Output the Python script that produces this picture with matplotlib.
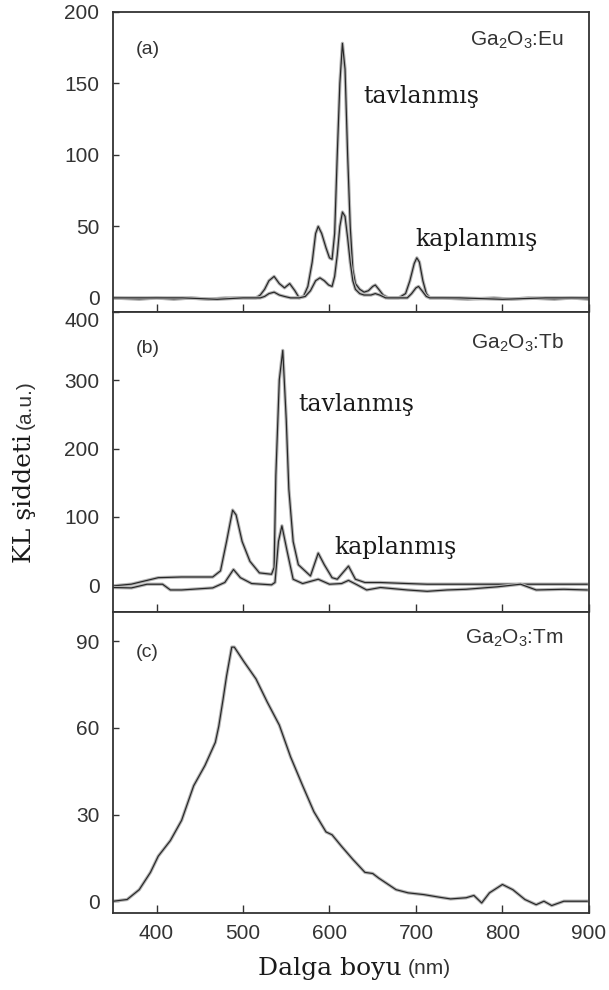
import numpy as np
import matplotlib
matplotlib.use("Agg")
import matplotlib.pyplot as plt

plt.rcParams['font.family'] = ['Liberation Sans', 'DejaVu Sans']
plt.rcParams['mathtext.fontset'] = 'custom'
plt.rcParams['mathtext.rm'] = 'Liberation Sans'
plt.rcParams['mathtext.it'] = 'Liberation Sans'

# (a) Ga2O3:Eu
eu_tav_x = [350, 380, 400, 420, 440, 460, 480, 500, 515, 520, 525, 530, 536, 542, 548, 554, 560, 565,
            570, 575, 580, 584, 587, 591, 596, 600, 603, 606, 609, 612, 615, 618, 621, 624, 627, 630,
            635, 640, 645, 650, 653, 657, 662, 668, 680, 688, 693, 698, 701, 704, 708, 712, 716, 730,
            760, 790, 810, 830, 860, 880, 900]
eu_tav_y = [0, -1, 0, -1, 0, -1, 0, 0, 0, 2, 6, 12, 15, 10, 7, 10, 5, 0,
            1, 8, 25, 45, 50, 45, 35, 28, 27, 45, 100, 150, 178, 160, 100, 50, 20, 10,
            6, 4, 5, 8, 9, 6, 2, 0, 0, 3, 12, 24, 28, 25, 12, 3, 0, 0,
            -1, 0, -1, 0, -1, 0, -1]
eu_kap_x = [350, 390, 430, 470, 500, 520, 525, 530, 536, 542, 548, 555, 565, 572, 578, 584, 589, 594,
            599, 603, 606, 609, 612, 615, 618, 621, 624, 627, 630, 635, 640, 648, 653, 658, 665, 690,
            695, 700, 703, 707, 712, 716, 750, 800, 850, 900]
eu_kap_y = [0, 0, 0, -1, 0, 0, 1, 3, 4, 2, 1, 0, 0, 1, 5, 12, 14, 12,
            9, 8, 15, 30, 50, 60, 57, 42, 25, 12, 6, 3, 2, 2, 3, 2, 0, 0,
            3, 7, 8, 5, 1, 0, 0, -1, 0, 0]

# (b) Ga2O3:Tb
tb_tav_x = [350, 371, 389, 402, 429, 465, 474, 481, 488, 492, 499, 508, 519, 533, 536, 538, 542, 546,
            550, 553, 558, 564, 578, 587, 594, 603, 609, 622, 630, 641, 659, 690, 713, 758, 803, 898]
tb_tav_y = [-1, 1.5, 7, 11, 12, 12, 21, 64, 110, 103, 64, 35, 18, 16, 26, 161, 301, 344,
            243, 141, 64, 30, 13.5, 47, 30, 11, 8.7, 28, 8.7, 3.9, 3.9, 2.4, 1.4, 1.4, 1.4, 1.4]
tb_kap_x = [350, 371, 389, 407, 416, 429, 465, 479, 489, 497, 510, 533, 537, 541, 545, 551, 558, 569,
            587, 600, 614, 622, 632, 643, 659, 690, 713, 736, 758, 794, 821, 839, 871, 898]
tb_kap_y = [-3.4, -4, 1.4, 1.4, -7, -7, -4, 4, 23, 11, 2.4, 0.5, 4, 64, 87, 50, 8.7, 2.4,
            8.7, 1.4, 2.4, 7, 0.5, -7, -3.4, -7, -9, -7, -6, -2.4, 1.4, -7, -6, -7]

# (c) Ga2O3:Tm
tm_x = [350, 366, 380, 393, 402, 416, 429, 443, 456, 468, 472, 477, 481, 487, 490, 501, 515, 528,
        542, 555, 569, 582, 596, 603, 614, 627, 641, 650, 657, 664, 677, 691, 709, 727, 740, 758,
        767, 776, 785, 800, 812, 826, 839, 848, 857, 871, 898]
tm_y = [0, 0.6, 4, 10, 15.6, 21, 28, 40, 47, 55, 60.6, 70, 78, 88, 88, 83, 77, 69,
        61, 50, 40, 31, 24, 23, 19, 14.5, 10, 9.6, 8, 6.6, 4, 2.9, 2.3, 1.4, 0.8, 1.2,
        2, -0.6, 2.9, 5.8, 4, 0.6, -1.2, 0, -1.5, 0, 0]

panels = [
    dict(tag='(a)', dop='Eu', ylim=(-10, 200), yticks=[0, 50, 100, 150, 200],
         curves=[(eu_tav_x, eu_tav_y), (eu_kap_x, eu_kap_y)],
         tav=(639, 141), kap=(699, 41), tagy=174, dopy=180),
    dict(tag='(b)', dop='Tb', ylim=(-40, 400), yticks=[0, 100, 200, 300, 400],
         curves=[(tb_tav_x, tb_tav_y), (tb_kap_x, tb_kap_y)],
         tav=(564, 265), kap=(606, 55), tagy=347, dopy=355),
    dict(tag='(c)', dop='Tm', ylim=(-4, 100), yticks=[0, 30, 60, 90],
         curves=[(tm_x, tm_y)], tav=None, kap=None, tagy=86, dopy=91),
]

fig, axes = plt.subplots(3, 1, sharex=True, figsize=(6.09, 9.90), dpi=100)
fig.subplots_adjust(left=0.186, right=0.967, top=0.988, bottom=0.078, hspace=0)

serif = 'DejaVu Serif'
for ax, p in zip(axes, panels):
    for x, y in p['curves']:
        ax.plot(x, y, color='#b4b4b4', lw=2.4, solid_joinstyle='round')
        ax.plot(x, y, color='#262626', lw=0.85)
    ax.set_xlim(350, 900)
    ax.set_ylim(*p['ylim'])
    ax.set_yticks(p['yticks'])
    ax.set_xticks([400, 500, 600, 700, 800, 900])
    ax.tick_params(axis='both', direction='in', length=6, width=1, colors='#333333',
                   labelsize=15, top=False, right=False)
    ax.tick_params(axis='y', length=4, pad=10)
    for s in ax.spines.values():
        s.set_color('#333333')
        s.set_linewidth(1.3)
    ax.text(376, p['tagy'], p['tag'], fontsize=14, color='#333333', va='center')
    ax.text(871, p['dopy'], 'Ga$_2$O$_3$:' + p['dop'], fontsize=15, color='#333333',
            ha='right', va='center')
    if p['tav']:
        ax.text(p['tav'][0], p['tav'][1], 'tavlanmış', family=serif, fontsize=17,
                color='#1a1a1a', va='center')
        ax.text(p['kap'][0], p['kap'][1], 'kaplanmış', family=serif, fontsize=17,
                color='#1a1a1a', va='center')

axes[2].tick_params(axis='x', pad=8)
# top label of (b) sits just below the frame, clear of the "0" of (a)
axes[1].yaxis.get_major_ticks()[-1].label1.set_verticalalignment('top')

# axis titles: serif words with sans units
fig.canvas.draw()
r = fig.canvas.get_renderer()
t1 = fig.text(25 / 609, 1 - 563 / 990, 'KL şiddeti', family=serif, fontsize=18, rotation=90,
              rotation_mode='anchor', ha='left', va='center', color='#1a1a1a')
bb = t1.get_window_extent(r)
fig.text(25 / 609, (bb.y1 + 5) / fig.bbox.height, '(a.u.)', fontsize=15, rotation=90,
         rotation_mode='anchor', ha='left', va='center', color='#333333')

fig.text(401 / 609, 1 - 968 / 990, 'Dalga boyu', family=serif, fontsize=18,
         ha='right', va='center', color='#1a1a1a')
fig.text(408 / 609, 1 - 968 / 990, '(nm)', fontsize=15, ha='left', va='center', color='#333333')

fig.savefig('out.png', dpi=100)
